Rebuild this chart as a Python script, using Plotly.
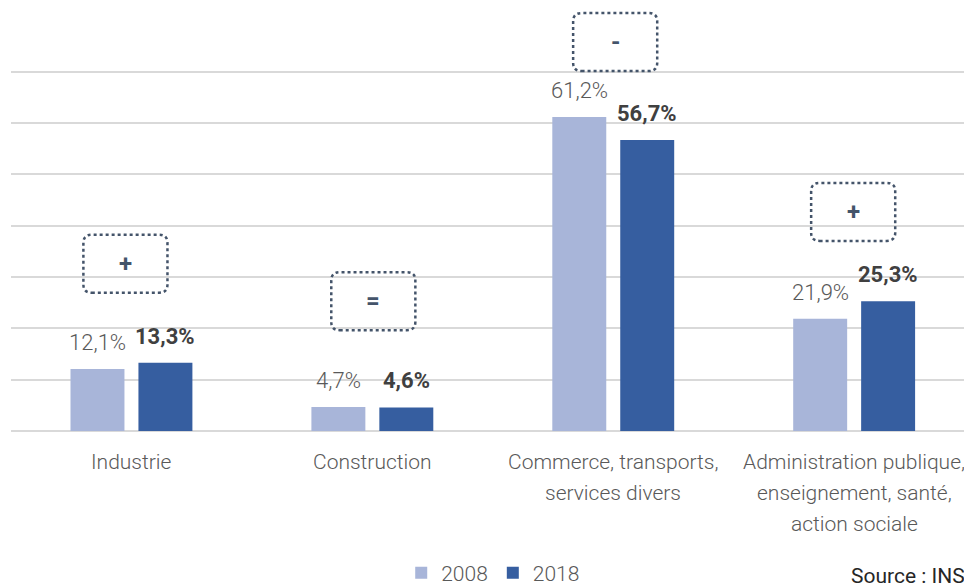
import plotly.graph_objects as go

# Sector shares of employment, 2008 vs 2018
categories = [
    "Industrie",
    "Construction",
    "Commerce, transports,<br>services divers",
    "Administration publique,<br>enseignement, santé,<br>action sociale",
]
years = ["2008", "2018"]
share_2008 = [12.1, 4.7, 61.2, 21.9]
share_2018 = [13.3, 4.6, 56.7, 25.3]
trend_signs = ["+", "=", "-", "+"]
y_ticks = [0, 10, 20, 30, 40, 50, 60, 70]

# Placement of the trend boxes (data units: category index, percent)
box_centers = [(-0.025, 32.6), (1.004, 25.3), (2.008, 75.8), (2.996, 42.7)]
BOX_W, BOX_H = 0.349, 11.3
BOX_RX, BOX_RY = 0.035, 1.6

FONT = "Roboto, DejaVu Sans Condensed, sans-serif"
LIGHT = "#A8B5D9"
DARK = "#365EA0"
GRID = "#D9D9D9"
BOX_COLOR = "#44546A"
TEXT = "#595959"

BAR_W = 0.224
OFF_2008 = -0.253
OFF_2018 = 0.029
LABEL_LINE_PX = 31    # spacing of the category label lines under the axis
LEGEND_Y_PX = 573     # vertical centre of the legend row
SOURCE_Y_PX = 576     # vertical centre of the source note

x_idx = list(range(len(categories)))


def fmt(v):
    return f"{v:.1f}%".replace(".", ",")


fig = go.Figure()
fig.add_trace(go.Bar(
    name=years[0], x=x_idx, y=share_2008, width=BAR_W, offset=OFF_2008,
    marker=dict(color=LIGHT, line=dict(width=0)), hoverinfo="skip",
))
fig.add_trace(go.Bar(
    name=years[1], x=x_idx, y=share_2018, width=BAR_W, offset=OFF_2018,
    marker=dict(color=DARK, line=dict(width=0)), hoverinfo="skip",
))

annotations = []

# value labels above the bars
for i, (a, b) in enumerate(zip(share_2008, share_2018)):
    annotations.append(dict(
        x=i + OFF_2008 + BAR_W / 2, y=a, text=fmt(a), showarrow=False,
        yanchor="bottom", xanchor="center", yshift=12,
        font=dict(family=FONT, size=22, color=TEXT, weight=300),
    ))
    annotations.append(dict(
        x=i + OFF_2018 + BAR_W / 2, y=b, text=f"<b>{fmt(b)}</b>", showarrow=False,
        yanchor="bottom", xanchor="center", yshift=12,
        font=dict(family=FONT, size=22, color="#404040"),
    ))

# category labels under the axis, one line at a time for wider line spacing
for i, label in enumerate(categories):
    for k, line in enumerate(label.split("<br>")):
        annotations.append(dict(
            x=i, y=0, text=line, showarrow=False,
            xanchor="center", yanchor="middle",
            yshift=-(LABEL_LINE_PX * (k + 1)),
            font=dict(family=FONT, size=21, color=TEXT, weight=300),
        ))

# dotted trend boxes
shapes = []
for (cx, cy), sign in zip(box_centers, trend_signs):
    x0, x1 = cx - BOX_W / 2, cx + BOX_W / 2
    y0, y1 = cy - BOX_H / 2, cy + BOX_H / 2
    path = (
        f"M{x0 + BOX_RX},{y0} L{x1 - BOX_RX},{y0} Q{x1},{y0} {x1},{y0 + BOX_RY} "
        f"L{x1},{y1 - BOX_RY} Q{x1},{y1} {x1 - BOX_RX},{y1} "
        f"L{x0 + BOX_RX},{y1} Q{x0},{y1} {x0},{y1 - BOX_RY} "
        f"L{x0},{y0 + BOX_RY} Q{x0},{y0} {x0 + BOX_RX},{y0} Z"
    )
    shapes.append(dict(type="path", path=path, xref="x", yref="y",
                       line=dict(color=BOX_COLOR, width=2.5, dash="dot"),
                       fillcolor="rgba(0,0,0,0)", layer="above"))
    annotations.append(dict(
        x=cx, y=cy, text=f"<b>{sign}</b>", showarrow=False,
        xanchor="center", yanchor="middle",
        font=dict(family=FONT, size=24, color=BOX_COLOR),
    ))

annotations.append(dict(
    xref="paper", yref="paper", x=0.879, y=(431 - SOURCE_Y_PX) / 431,
    xanchor="left", yanchor="middle",
    text="Source : INSEE", showarrow=False,
    font=dict(family=FONT, size=21, color="#262626"),
))

fig.update_layout(
    width=964, height=587,
    margin=dict(l=10.5, r=0, t=0, b=156, pad=0, autoexpand=False),
    paper_bgcolor="white", plot_bgcolor="white",
    barmode="overlay",
    font=dict(family=FONT, size=21, color=TEXT),
    xaxis=dict(
        range=[-0.5, 3.456], tickmode="array", tickvals=x_idx,
        showticklabels=False,
        showgrid=False, zeroline=False, showline=False, ticks="",
        automargin=False, fixedrange=True,
    ),
    yaxis=dict(
        range=[0, 84.0], tickmode="array", tickvals=y_ticks, showticklabels=False,
        showgrid=True, gridcolor=GRID, gridwidth=1.6,
        zeroline=True, zerolinecolor=GRID, zerolinewidth=1.6,
        showline=False, ticks="", automargin=False, fixedrange=True,
    ),
    legend=dict(
        orientation="h", x=0.506, xanchor="center",
        yref="container", y=(587 - LEGEND_Y_PX) / 587, yanchor="middle",
        font=dict(family=FONT, size=21, color=TEXT, weight=300),
        itemwidth=30, tracegroupgap=0,
    ),
    shapes=shapes,
    annotations=annotations,
    showlegend=True,
)

fig.write_html("out.html")
